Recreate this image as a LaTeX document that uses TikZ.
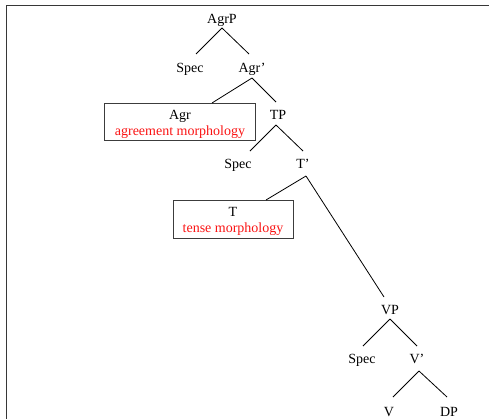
\documentclass[tikz,border=0pt]{standalone}
\usepackage{fontspec}
\setmainfont{Liberation Serif}
\usetikzlibrary{calc}
\definecolor{morph}{RGB}{250,20,20}
\definecolor{framec}{RGB}{55,55,55}
\definecolor{boxc}{RGB}{60,60,60}
\begin{document}
\begin{tikzpicture}[x=1pt,y=-1pt,
  lab/.style={font=\fontsize{14}{16}\selectfont, inner sep=0pt, outer sep=0pt, text height=10pt, text depth=3pt, anchor=base},
  redlab/.style={lab, text=morph},
  morphbox/.style={draw=boxc, line width=1pt, inner sep=0pt, outer sep=0pt},
  edge/.style={draw=black, line width=0.8pt}]
\useasboundingbox (0,0) rectangle (489,418);
\draw[framec, line width=1.5pt] (6.5,420) -- (6.5,5.5) -- (491,5.5);
% nodes
\node[lab] (agrp) at (222,23) {AgrP};
\node[lab] (spec1) at (190,72) {Spec};
\node[lab] (agrbar) at (252,72) {Agr’};
\node[morphbox, minimum width=151pt, minimum height=37pt] (agrbox) at (179.5,121.5) {};
\node[lab] (agr) at (180,119.3) {Agr};
\node[redlab] (agrmorph) at (180,135) {agreement morphology};
\node[lab] (tp) at (278,119) {TP};
\node[lab] (spec2) at (238,168) {Spec};
\node[lab] (tbar) at (303,168) {T’};
\node[morphbox, minimum width=120pt, minimum height=38pt] (tbox) at (233,219) {};
\node[lab] (t) at (233,216.7) {T};
\node[redlab] (tmorph) at (233,232.7) {tense morphology};
\node[lab] (vp) at (390,314) {VP};
\node[lab] (spec3) at (362,363) {Spec};
\node[lab] (vbar) at (417,363) {V’};
\node[lab] (v) at (389,416) {V};
\node[lab] (dp) at (449,416) {DP};
% edges
\draw[edge] ([yshift=-2pt]agrp.south) -- ([xshift=6pt,yshift=8pt]spec1.north);
\draw[edge] ([yshift=-2pt]agrp.south) -- ([xshift=-3pt,yshift=8pt]agrbar.north);
\draw[edge] ([yshift=-3pt]agrbar.south) -- ($(agrbox.north west)!0.715!(agrbox.north east)$);
\draw[edge] ([yshift=-3pt]agrbar.south) -- ([xshift=-2pt,yshift=7pt]tp.north);
\draw[edge] ([xshift=-2pt,yshift=-3pt]tp.south) -- ([xshift=12pt,yshift=7pt]spec2.north);
\draw[edge] ([xshift=-2pt,yshift=-3pt]tp.south) -- ([yshift=7pt]tbar.north);
\draw[edge] ([xshift=3pt,yshift=-5pt]tbar.south) -- ($(tbox.north west)!0.775!(tbox.north east)$);
\draw[edge] ([xshift=3pt,yshift=-5pt]tbar.south) -- ([xshift=-6pt,yshift=7pt]vp.north);
\draw[edge] ([yshift=-2pt]vp.south) -- ([xshift=1pt,yshift=7pt]spec3.north);
\draw[edge] ([yshift=-2pt]vp.south) -- ([yshift=7pt]vbar.north);
\draw[edge] ([xshift=2pt,yshift=-5pt]vbar.south) -- ([xshift=4pt,yshift=9pt]v.north);
\draw[edge] ([xshift=2pt,yshift=-5pt]vbar.south) -- ([xshift=-2pt,yshift=9pt]dp.north);
\end{tikzpicture}
\end{document}
